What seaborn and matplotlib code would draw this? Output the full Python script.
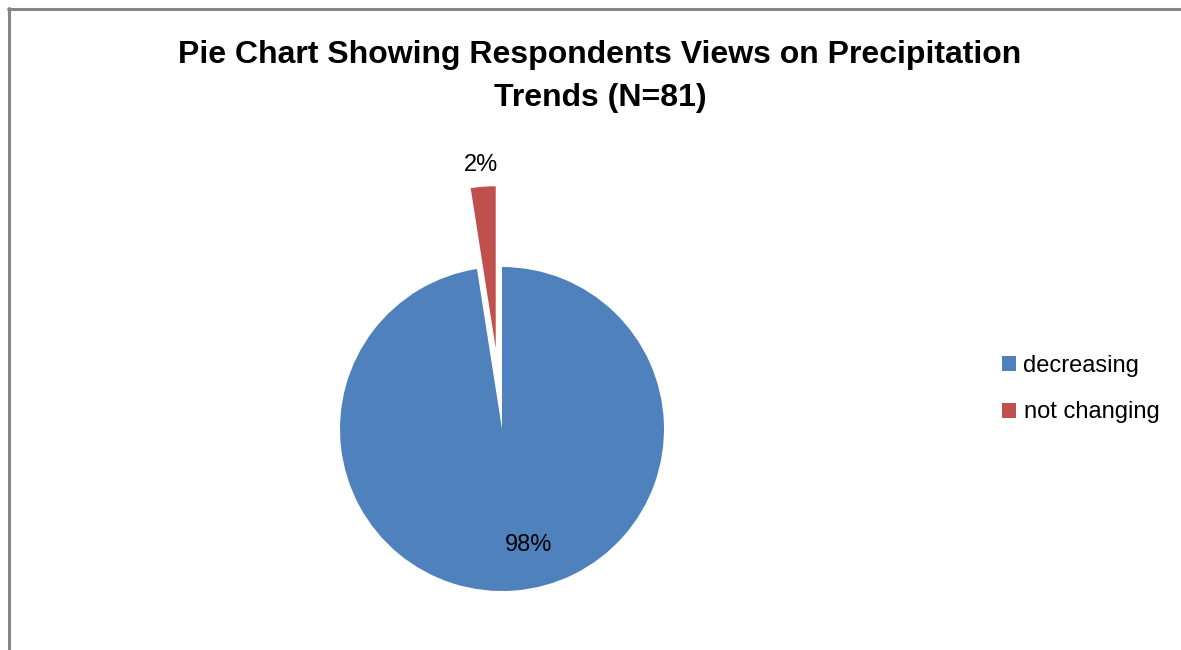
import matplotlib
matplotlib.use("Agg")
import matplotlib.pyplot as plt
from matplotlib.lines import Line2D
import seaborn as sns

# data (N=81 respondents)
categories = ["decreasing", "not changing"]
counts = [79, 2]
colors = ["#4F81BD", "#C0504D"]
title_lines = ["Pie Chart Showing Respondents Views on Precipitation", "Trends (N=81)"]

sns.set_theme(style="white")
plt.rcParams["font.family"] = ["Liberation Sans", "DejaVu Sans"]
plt.rcParams["text.color"] = "black"

W, H = 1181, 650
fig = plt.figure(figsize=(W / 100, H / 100), dpi=100)
fig.patch.set_facecolor("white")

# pie axes: center (502, 429) px, radius 162 px
cx, cy, R, L = 502, 429, 162, 230
ax = fig.add_axes([(cx - L) / W, (H - cy - L) / H, 2 * L / W, 2 * L / H])
wedges, texts, autotexts = ax.pie(
    counts, colors=colors, startangle=90, counterclock=False,
    explode=[0, 0.5], autopct="%1.0f%%",
    wedgeprops=dict(linewidth=0), textprops=dict(fontsize=17, color="black"),
)
autotexts[0].set_position((0.167, -0.716))
autotexts[1].set_position((-0.13, 1.63))
ax.set_xlim(-L / R, L / R)
ax.set_ylim(-L / R, L / R)
ax.set_aspect("equal")
ax.axis("off")

fig.text(600 / W, 1 - 55 / H, title_lines[0], ha="center", va="center",
         fontsize=23, fontweight="bold", color="black")
fig.text(600 / W, 1 - 98 / H, title_lines[1], ha="center", va="center",
         fontsize=23, fontweight="bold", color="black")

leg = fig.legend(wedges, categories, loc="center left",
                 bbox_to_anchor=(981 / W, 1 - 389 / H), frameon=False,
                 fontsize=17, handlelength=0.6, handleheight=0.6,
                 handletextpad=0.3, labelspacing=1.05)
for t in leg.get_texts():
    t.set_color("black")

# chart area border (left and top)
fig.add_artist(Line2D([8.5 / W, 8.5 / W], [0, 1 - 8 / H], color="#878787",
                      linewidth=2.2, transform=fig.transFigure))
fig.add_artist(Line2D([8 / W, 1], [1 - 8.5 / H, 1 - 8.5 / H], color="#878787",
                      linewidth=2.2, transform=fig.transFigure))

fig.savefig("out.png", dpi=100)
